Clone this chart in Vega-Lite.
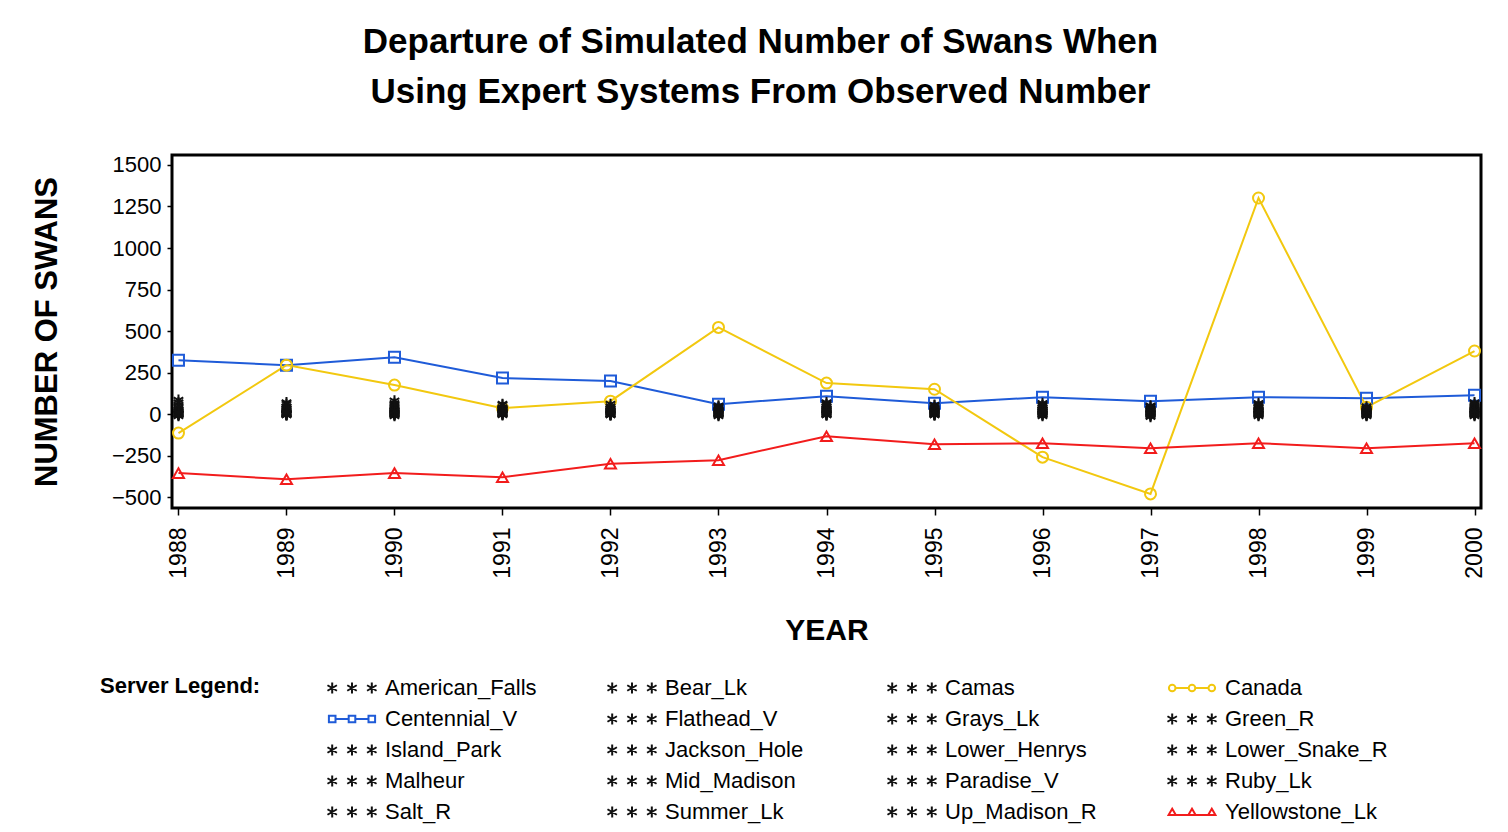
{
 "$schema": "https://vega.github.io/schema/vega-lite/v6.json",
 "width": 1309, "height": 353,
 "autosize": {"type": "none"},
 "padding": {"left": 172, "top": 155, "right": 27, "bottom": 324},
 "background": "white",
 "title": {"text": ["Departure of Simulated Number of Swans When", "Using Expert Systems From Observed Number"], "font": "Liberation Sans", "fontSize": 35, "fontWeight": "bold", "color": "black", "lineHeight": 50, "offset": 44, "dx": -66, "anchor": "middle"},
 "config": {"view": {"stroke": "black", "strokeWidth": 3}},
 "data": {"values": [
  {"s":"Centennial_V","y":1988,"v":325},{"s":"Centennial_V","y":1989,"v":295},{"s":"Centennial_V","y":1990,"v":343},{"s":"Centennial_V","y":1991,"v":217},{"s":"Centennial_V","y":1992,"v":199},{"s":"Centennial_V","y":1993,"v":60},{"s":"Centennial_V","y":1994,"v":108},{"s":"Centennial_V","y":1995,"v":66},{"s":"Centennial_V","y":1996,"v":102},{"s":"Centennial_V","y":1997,"v":78},{"s":"Centennial_V","y":1998,"v":102},{"s":"Centennial_V","y":1999,"v":96},{"s":"Centennial_V","y":2000,"v":114},
  {"s":"Canada","y":1988,"v":-114},{"s":"Canada","y":1989,"v":295},{"s":"Canada","y":1990,"v":175},{"s":"Canada","y":1991,"v":36},{"s":"Canada","y":1992,"v":78},{"s":"Canada","y":1993,"v":522},{"s":"Canada","y":1994,"v":187},{"s":"Canada","y":1995,"v":150},{"s":"Canada","y":1996,"v":-259},{"s":"Canada","y":1997,"v":-480},{"s":"Canada","y":1998,"v":1301},{"s":"Canada","y":1999,"v":42},{"s":"Canada","y":2000,"v":380},
  {"s":"Yellowstone_Lk","y":1988,"v":-355},{"s":"Yellowstone_Lk","y":1989,"v":-392},{"s":"Yellowstone_Lk","y":1990,"v":-355},{"s":"Yellowstone_Lk","y":1991,"v":-380},{"s":"Yellowstone_Lk","y":1992,"v":-298},{"s":"Yellowstone_Lk","y":1993,"v":-277},{"s":"Yellowstone_Lk","y":1994,"v":-133},{"s":"Yellowstone_Lk","y":1995,"v":-181},{"s":"Yellowstone_Lk","y":1996,"v":-175},{"s":"Yellowstone_Lk","y":1997,"v":-205},{"s":"Yellowstone_Lk","y":1998,"v":-175},{"s":"Yellowstone_Lk","y":1999,"v":-205},{"s":"Yellowstone_Lk","y":2000,"v":-175},
  {"s":"American_Falls","y":1988,"v":70},{"s":"American_Falls","y":1989,"v":60},{"s":"American_Falls","y":1990,"v":55},{"s":"American_Falls","y":1991,"v":40},{"s":"American_Falls","y":1992,"v":35},{"s":"American_Falls","y":1993,"v":30},{"s":"American_Falls","y":1994,"v":45},{"s":"American_Falls","y":1995,"v":35},{"s":"American_Falls","y":1996,"v":40},{"s":"American_Falls","y":1997,"v":30},{"s":"American_Falls","y":1998,"v":45},{"s":"American_Falls","y":1999,"v":25},{"s":"American_Falls","y":2000,"v":40},
  {"s":"Bear_Lk","y":1988,"v":5},{"s":"Bear_Lk","y":1989,"v":10},{"s":"Bear_Lk","y":1990,"v":0},{"s":"Bear_Lk","y":1991,"v":10},{"s":"Bear_Lk","y":1992,"v":5},{"s":"Bear_Lk","y":1993,"v":0},{"s":"Bear_Lk","y":1994,"v":5},{"s":"Bear_Lk","y":1995,"v":10},{"s":"Bear_Lk","y":1996,"v":5},{"s":"Bear_Lk","y":1997,"v":0},{"s":"Bear_Lk","y":1998,"v":5},{"s":"Bear_Lk","y":1999,"v":0},{"s":"Bear_Lk","y":2000,"v":10},
  {"s":"Camas","y":1988,"v":0},{"s":"Camas","y":1989,"v":0},{"s":"Camas","y":1990,"v":5},{"s":"Camas","y":1991,"v":0},{"s":"Camas","y":1992,"v":0},{"s":"Camas","y":1993,"v":5},{"s":"Camas","y":1994,"v":0},{"s":"Camas","y":1995,"v":0},{"s":"Camas","y":1996,"v":0},{"s":"Camas","y":1997,"v":5},{"s":"Camas","y":1998,"v":0},{"s":"Camas","y":1999,"v":5},{"s":"Camas","y":2000,"v":0},
  {"s":"Flathead_V","y":1988,"v":20},{"s":"Flathead_V","y":1989,"v":15},{"s":"Flathead_V","y":1990,"v":25},{"s":"Flathead_V","y":1991,"v":20},{"s":"Flathead_V","y":1992,"v":15},{"s":"Flathead_V","y":1993,"v":10},{"s":"Flathead_V","y":1994,"v":20},{"s":"Flathead_V","y":1995,"v":15},{"s":"Flathead_V","y":1996,"v":20},{"s":"Flathead_V","y":1997,"v":15},{"s":"Flathead_V","y":1998,"v":20},{"s":"Flathead_V","y":1999,"v":10},{"s":"Flathead_V","y":2000,"v":15},
  {"s":"Grays_Lk","y":1988,"v":-5},{"s":"Grays_Lk","y":1989,"v":0},{"s":"Grays_Lk","y":1990,"v":0},{"s":"Grays_Lk","y":1991,"v":-5},{"s":"Grays_Lk","y":1992,"v":0},{"s":"Grays_Lk","y":1993,"v":-5},{"s":"Grays_Lk","y":1994,"v":0},{"s":"Grays_Lk","y":1995,"v":-5},{"s":"Grays_Lk","y":1996,"v":0},{"s":"Grays_Lk","y":1997,"v":-10},{"s":"Grays_Lk","y":1998,"v":0},{"s":"Grays_Lk","y":1999,"v":-5},{"s":"Grays_Lk","y":2000,"v":0},
  {"s":"Green_R","y":1988,"v":10},{"s":"Green_R","y":1989,"v":5},{"s":"Green_R","y":1990,"v":15},{"s":"Green_R","y":1991,"v":5},{"s":"Green_R","y":1992,"v":10},{"s":"Green_R","y":1993,"v":15},{"s":"Green_R","y":1994,"v":10},{"s":"Green_R","y":1995,"v":5},{"s":"Green_R","y":1996,"v":10},{"s":"Green_R","y":1997,"v":10},{"s":"Green_R","y":1998,"v":5},{"s":"Green_R","y":1999,"v":10},{"s":"Green_R","y":2000,"v":5},
  {"s":"Island_Park","y":1988,"v":40},{"s":"Island_Park","y":1989,"v":30},{"s":"Island_Park","y":1990,"v":35},{"s":"Island_Park","y":1991,"v":25},{"s":"Island_Park","y":1992,"v":20},{"s":"Island_Park","y":1993,"v":20},{"s":"Island_Park","y":1994,"v":30},{"s":"Island_Park","y":1995,"v":20},{"s":"Island_Park","y":1996,"v":25},{"s":"Island_Park","y":1997,"v":20},{"s":"Island_Park","y":1998,"v":30},{"s":"Island_Park","y":1999,"v":15},{"s":"Island_Park","y":2000,"v":25},
  {"s":"Jackson_Hole","y":1988,"v":0},{"s":"Jackson_Hole","y":1989,"v":5},{"s":"Jackson_Hole","y":1990,"v":10},{"s":"Jackson_Hole","y":1991,"v":15},{"s":"Jackson_Hole","y":1992,"v":10},{"s":"Jackson_Hole","y":1993,"v":5},{"s":"Jackson_Hole","y":1994,"v":15},{"s":"Jackson_Hole","y":1995,"v":10},{"s":"Jackson_Hole","y":1996,"v":10},{"s":"Jackson_Hole","y":1997,"v":5},{"s":"Jackson_Hole","y":1998,"v":10},{"s":"Jackson_Hole","y":1999,"v":5},{"s":"Jackson_Hole","y":2000,"v":10},
  {"s":"Lower_Henrys","y":1988,"v":30},{"s":"Lower_Henrys","y":1989,"v":25},{"s":"Lower_Henrys","y":1990,"v":20},{"s":"Lower_Henrys","y":1991,"v":10},{"s":"Lower_Henrys","y":1992,"v":25},{"s":"Lower_Henrys","y":1993,"v":25},{"s":"Lower_Henrys","y":1994,"v":35},{"s":"Lower_Henrys","y":1995,"v":30},{"s":"Lower_Henrys","y":1996,"v":30},{"s":"Lower_Henrys","y":1997,"v":25},{"s":"Lower_Henrys","y":1998,"v":25},{"s":"Lower_Henrys","y":1999,"v":20},{"s":"Lower_Henrys","y":2000,"v":30},
  {"s":"Lower_Snake_R","y":1988,"v":-10},{"s":"Lower_Snake_R","y":1989,"v":-5},{"s":"Lower_Snake_R","y":1990,"v":-10},{"s":"Lower_Snake_R","y":1991,"v":0},{"s":"Lower_Snake_R","y":1992,"v":-5},{"s":"Lower_Snake_R","y":1993,"v":-10},{"s":"Lower_Snake_R","y":1994,"v":-5},{"s":"Lower_Snake_R","y":1995,"v":0},{"s":"Lower_Snake_R","y":1996,"v":-5},{"s":"Lower_Snake_R","y":1997,"v":-15},{"s":"Lower_Snake_R","y":1998,"v":-5},{"s":"Lower_Snake_R","y":1999,"v":-10},{"s":"Lower_Snake_R","y":2000,"v":-5},
  {"s":"Malheur","y":1988,"v":15},{"s":"Malheur","y":1989,"v":20},{"s":"Malheur","y":1990,"v":10},{"s":"Malheur","y":1991,"v":30},{"s":"Malheur","y":1992,"v":20},{"s":"Malheur","y":1993,"v":10},{"s":"Malheur","y":1994,"v":25},{"s":"Malheur","y":1995,"v":20},{"s":"Malheur","y":1996,"v":15},{"s":"Malheur","y":1997,"v":10},{"s":"Malheur","y":1998,"v":15},{"s":"Malheur","y":1999,"v":20},{"s":"Malheur","y":2000,"v":20},
  {"s":"Mid_Madison","y":1988,"v":5},{"s":"Mid_Madison","y":1989,"v":0},{"s":"Mid_Madison","y":1990,"v":5},{"s":"Mid_Madison","y":1991,"v":20},{"s":"Mid_Madison","y":1992,"v":0},{"s":"Mid_Madison","y":1993,"v":0},{"s":"Mid_Madison","y":1994,"v":10},{"s":"Mid_Madison","y":1995,"v":5},{"s":"Mid_Madison","y":1996,"v":15},{"s":"Mid_Madison","y":1997,"v":0},{"s":"Mid_Madison","y":1998,"v":10},{"s":"Mid_Madison","y":1999,"v":0},{"s":"Mid_Madison","y":2000,"v":5},
  {"s":"Paradise_V","y":1988,"v":25},{"s":"Paradise_V","y":1989,"v":35},{"s":"Paradise_V","y":1990,"v":45},{"s":"Paradise_V","y":1991,"v":35},{"s":"Paradise_V","y":1992,"v":30},{"s":"Paradise_V","y":1993,"v":40},{"s":"Paradise_V","y":1994,"v":55},{"s":"Paradise_V","y":1995,"v":40},{"s":"Paradise_V","y":1996,"v":50},{"s":"Paradise_V","y":1997,"v":35},{"s":"Paradise_V","y":1998,"v":40},{"s":"Paradise_V","y":1999,"v":30},{"s":"Paradise_V","y":2000,"v":50},
  {"s":"Ruby_Lk","y":1988,"v":0},{"s":"Ruby_Lk","y":1989,"v":-5},{"s":"Ruby_Lk","y":1990,"v":-5},{"s":"Ruby_Lk","y":1991,"v":5},{"s":"Ruby_Lk","y":1992,"v":-5},{"s":"Ruby_Lk","y":1993,"v":5},{"s":"Ruby_Lk","y":1994,"v":-5},{"s":"Ruby_Lk","y":1995,"v":-5},{"s":"Ruby_Lk","y":1996,"v":-10},{"s":"Ruby_Lk","y":1997,"v":-5},{"s":"Ruby_Lk","y":1998,"v":-10},{"s":"Ruby_Lk","y":1999,"v":-5},{"s":"Ruby_Lk","y":2000,"v":-10},
  {"s":"Salt_R","y":1988,"v":50},{"s":"Salt_R","y":1989,"v":45},{"s":"Salt_R","y":1990,"v":65},{"s":"Salt_R","y":1991,"v":55},{"s":"Salt_R","y":1992,"v":45},{"s":"Salt_R","y":1993,"v":50},{"s":"Salt_R","y":1994,"v":60},{"s":"Salt_R","y":1995,"v":50},{"s":"Salt_R","y":1996,"v":55},{"s":"Salt_R","y":1997,"v":45},{"s":"Salt_R","y":1998,"v":55},{"s":"Salt_R","y":1999,"v":35},{"s":"Salt_R","y":2000,"v":60},
  {"s":"Summer_Lk","y":1988,"v":10},{"s":"Summer_Lk","y":1989,"v":10},{"s":"Summer_Lk","y":1990,"v":20},{"s":"Summer_Lk","y":1991,"v":25},{"s":"Summer_Lk","y":1992,"v":15},{"s":"Summer_Lk","y":1993,"v":20},{"s":"Summer_Lk","y":1994,"v":20},{"s":"Summer_Lk","y":1995,"v":15},{"s":"Summer_Lk","y":1996,"v":25},{"s":"Summer_Lk","y":1997,"v":20},{"s":"Summer_Lk","y":1998,"v":20},{"s":"Summer_Lk","y":1999,"v":15},{"s":"Summer_Lk","y":2000,"v":20},
  {"s":"Up_Madison_R","y":1988,"v":85},{"s":"Up_Madison_R","y":1989,"v":70},{"s":"Up_Madison_R","y":1990,"v":80},{"s":"Up_Madison_R","y":1991,"v":60},{"s":"Up_Madison_R","y":1992,"v":60},{"s":"Up_Madison_R","y":1993,"v":45},{"s":"Up_Madison_R","y":1994,"v":70},{"s":"Up_Madison_R","y":1995,"v":55},{"s":"Up_Madison_R","y":1996,"v":65},{"s":"Up_Madison_R","y":1997,"v":50},{"s":"Up_Madison_R","y":1998,"v":65},{"s":"Up_Madison_R","y":1999,"v":45},{"s":"Up_Madison_R","y":2000,"v":70}
 ]},
 "encoding": {
  "x": {"field": "y", "type": "quantitative", "scale": {"domain": [1987.94, 2000.06], "nice": false, "zero": false},
   "axis": {"title": "YEAR", "values": [1988,1989,1990,1991,1992,1993,1994,1995,1996,1997,1998,1999,2000], "format": "d", "labelAngle": -90, "labelAlign": "right", "labelBaseline": "middle", "labelFontSize": 23, "labelFont": "Liberation Sans", "labelColor": "black", "labelPadding": 12, "labelOverlap": false, "labelFlush": false, "titleFont": "Liberation Sans", "titleFontSize": 30, "titleFontWeight": "bold", "titleColor": "black", "titlePadding": 37, "grid": false, "domain": false, "tickSize": 7, "tickColor": "black", "tickWidth": 1.5}},
  "y": {"field": "v", "type": "quantitative", "scale": {"domain": [-565, 1560], "nice": false, "zero": false},
   "axis": {"title": "NUMBER OF SWANS", "values": [-500,-250,0,250,500,750,1000,1250,1500], "format": "d", "labelFontSize": 22, "labelFont": "Liberation Sans", "labelColor": "black", "labelPadding": 6, "titleFont": "Liberation Sans", "titleFontSize": 31, "titleFontWeight": "bold", "titleColor": "black", "titlePadding": 48, "grid": false, "domain": false, "tickSize": 5, "tickColor": "black", "tickWidth": 1.5}}
 },
 "layer": [
  {"transform": [{"filter": {"field": "s", "oneOf": ["Canada", "Centennial_V", "Yellowstone_Lk"]}}],
   "mark": {"type": "line", "strokeWidth": 2},
   "encoding": {
    "stroke": {"field": "s", "type": "nominal", "legend": null,
     "scale": {"domain": ["Canada","Centennial_V","Yellowstone_Lk"], "range": ["#f2c80f","#1f5bd8","#f21c1c"]}}
   }},
  {"mark": {"type": "point", "filled": false, "strokeWidth": 2, "size": 121, "opacity": 1},
   "encoding": {
    "color": {"field": "s", "type": "nominal", "title": "Server Legend:",
     "scale": {"domain": ["American_Falls","Bear_Lk","Camas","Canada","Centennial_V","Flathead_V","Grays_Lk","Green_R","Island_Park","Jackson_Hole","Lower_Henrys","Lower_Snake_R","Malheur","Mid_Madison","Paradise_V","Ruby_Lk","Salt_R","Summer_Lk","Up_Madison_R","Yellowstone_Lk"],
      "range": ["#111111","#111111","#111111","#f2c80f","#1f5bd8","#111111","#111111","#111111","#111111","#111111","#111111","#111111","#111111","#111111","#111111","#111111","#111111","#111111","#111111","#f21c1c"]},
     "legend": {"orient": "none", "legendX": -72, "legendY": 521, "direction": "horizontal", "columns": 4, "gridAlign": "all", "titleOrient": "left", "titleAnchor": "start", "titleFont": "Liberation Sans", "titleFontSize": 22, "titleFontWeight": "bold", "titleColor": "black", "titlePadding": 79, "labelFont": "Liberation Sans", "labelFontSize": 22, "labelColor": "black", "labelLimit": 400, "symbolSize": 484, "symbolStrokeWidth": 2, "labelOffset": 21, "columnPadding": 55, "rowPadding": 8,
      "symbolType": {"expr": "datum.value === 'Centennial_V' ? 'M-2.1,-0.3L-1.5,-0.3L-1.5,0.3L-2.1,0.3ZM-0.3,-0.3L0.3,-0.3L0.3,0.3L-0.3,0.3ZM1.5,-0.3L2.1,-0.3L2.1,0.3L1.5,0.3ZM-1.5,0L-0.3,0M0.3,0L1.5,0' : datum.value === 'Canada' ? 'M-1.5,0A0.3,0.3 0 1,1 -2.1,0A0.3,0.3 0 1,1 -1.5,0M0.3,0A0.3,0.3 0 1,1 -0.3,0A0.3,0.3 0 1,1 0.3,0M2.1,0A0.3,0.3 0 1,1 1.5,0A0.3,0.3 0 1,1 2.1,0M-1.5,0L-0.3,0M0.3,0L1.5,0' : datum.value === 'Yellowstone_Lk' ? 'M-1.8,-0.3L-1.47,0.27L-2.13,0.27ZM0,-0.3L0.33,0.27L-0.33,0.27ZM1.8,-0.3L2.13,0.27L1.47,0.27ZM-1.47,0.27L-0.33,0.27M0.33,0.27L1.47,0.27' : 'M-1.8,-0.5L-1.8,0.5M-2.23,-0.25L-1.37,0.25M-2.23,0.25L-1.37,-0.25M0,-0.5L0,0.5M-0.43,-0.25L0.43,0.25M-0.43,0.25L0.43,-0.25M1.8,-0.5L1.8,0.5M1.37,-0.25L2.23,0.25M1.37,0.25L2.23,-0.25'"}}},
    "shape": {"field": "s", "type": "nominal", "legend": null,
     "scale": {
      "range": ["M0,-1L0,1M-0.87,-0.5L0.87,0.5M-0.87,0.5L0.87,-0.5","M0,-1L0,1M-0.87,-0.5L0.87,0.5M-0.87,0.5L0.87,-0.5","M0,-1L0,1M-0.87,-0.5L0.87,0.5M-0.87,0.5L0.87,-0.5","circle","square","M0,-1L0,1M-0.87,-0.5L0.87,0.5M-0.87,0.5L0.87,-0.5","M0,-1L0,1M-0.87,-0.5L0.87,0.5M-0.87,0.5L0.87,-0.5","M0,-1L0,1M-0.87,-0.5L0.87,0.5M-0.87,0.5L0.87,-0.5","M0,-1L0,1M-0.87,-0.5L0.87,0.5M-0.87,0.5L0.87,-0.5","M0,-1L0,1M-0.87,-0.5L0.87,0.5M-0.87,0.5L0.87,-0.5","M0,-1L0,1M-0.87,-0.5L0.87,0.5M-0.87,0.5L0.87,-0.5","M0,-1L0,1M-0.87,-0.5L0.87,0.5M-0.87,0.5L0.87,-0.5","M0,-1L0,1M-0.87,-0.5L0.87,0.5M-0.87,0.5L0.87,-0.5","M0,-1L0,1M-0.87,-0.5L0.87,0.5M-0.87,0.5L0.87,-0.5","M0,-1L0,1M-0.87,-0.5L0.87,0.5M-0.87,0.5L0.87,-0.5","M0,-1L0,1M-0.87,-0.5L0.87,0.5M-0.87,0.5L0.87,-0.5","M0,-1L0,1M-0.87,-0.5L0.87,0.5M-0.87,0.5L0.87,-0.5","M0,-1L0,1M-0.87,-0.5L0.87,0.5M-0.87,0.5L0.87,-0.5","M0,-1L0,1M-0.87,-0.5L0.87,0.5M-0.87,0.5L0.87,-0.5","triangle-up"]}}
   }}
 ]
}
